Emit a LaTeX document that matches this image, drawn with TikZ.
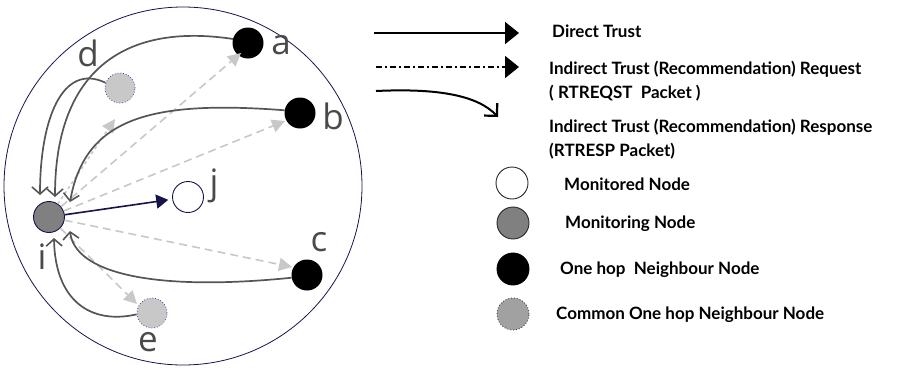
\documentclass[tikz,border=0pt]{standalone}
\usepackage{fontspec}
\setmainfont{Lato}
\newfontfamily\lblfont{Open Sans}
\usetikzlibrary{arrows.meta}
\definecolor{navy}{HTML}{14144A}
\definecolor{edgegray}{HTML}{555555}
\definecolor{reqgray}{HTML}{C8C8C8}
\definecolor{lblgray}{HTML}{4A4A4A}
\definecolor{ringblue}{HTML}{3A4AA8}
\tikzset{
  x=1pt, y=-1pt,
  nd/.style={circle, inner sep=0pt, minimum size=31pt},
  monitoring/.style={nd, fill=black!50, draw=navy, line width=0.9pt},
  monitored/.style={nd, fill=white, draw=navy, line width=0.9pt},
  onehop/.style={nd, fill=black},
  common/.style={nd, fill=reqgray, draw=ringblue, dotted, line width=0.8pt},
  lbl/.style={font=\lblfont\fontsize{35}{35}\selectfont, text=lblgray, inner sep=0pt},
  resp/.style={draw=edgegray, line width=1.7pt, -{Straight Barb[length=7pt,width=16pt,line width=1.6pt]}},
  req/.style={draw=reqgray, line width=1.6pt, dash pattern=on 8pt off 5pt, -{Triangle[length=13pt,width=13pt]}},
  reqdot/.style={draw=reqgray, line width=1.6pt, dash pattern=on 3pt off 3pt, -{Triangle[length=13pt,width=13pt]}},
  legtxt/.style={font=\bfseries\fontsize{17}{20}\selectfont, anchor=west, inner sep=0pt, align=left},
  legnd/.style={circle, inner sep=0pt, minimum size=32pt, draw=black!85, line width=0.9pt}
}
\begin{document}
\begin{tikzpicture}
\useasboundingbox (0,0) rectangle (909,370);

% network boundary
\draw[navy, line width=0.8pt] (183,186) circle[radius=179];

% nodes of the network
\node[monitoring] (i) at (49,217) {};
\node[monitored] (j) at (188,197) {};
\node[onehop] (a) at (248,43) {};
\node[onehop] (b) at (300,113) {};
\node[onehop] (c) at (307,275) {};
\node[common, minimum size=30pt] (d) at (120,88) {};
\node[common, minimum size=30pt] (e) at (152,313) {};

% node names
\node[lbl] (la) at (281,45) {a};
\node[lbl] (lb) at (333,116) {b};
\node[lbl] (lc) at (319,242) {c};
\node[lbl] (ld) at (88,53) {d};
\node[lbl] (lj) at (214,186) {j};
\node[lbl] (le) at (148,342) {e};
\node[lbl] (li) at (42,257) {i};

% coordinates where the requests and responses meet i
\coordinate (ia) at (55,197);
\coordinate (id) at (40,195);
\coordinate (ib) at (70,202);
\coordinate (ic) at (70,231);
\coordinate (ie) at (54,238);

% recommendation requests
\draw[req] (i) -- (241,53);
\draw[req] (i) -- (285,121);
\draw[req] (i) -- (292,267);
\draw[req] (i) -- (137,304);
\draw[reqdot] (i) -- (115,119);

% recommendation responses
\draw[resp] (a.165) .. controls (120,22) and (55,75) .. (ia);
\draw[resp] (d.160) .. controls (62,62) and (40,120) .. (id);
\draw[resp] (b.170) .. controls (150,100) and (85,118) .. (ib);
\draw[resp] (c.190) .. controls (150,292) and (75,272) .. (ic);
\draw[resp] (e.185) .. controls (90,325) and (55,300) .. (ie);

% direct trust
\draw[navy, line width=1.6pt, -{Triangle[length=12pt,width=14pt]}, shorten >=4pt] (i) -- (j);

% legend: connector kinds
\coordinate (s1) at (374,33);  \coordinate (t1) at (519,33);
\coordinate (s2) at (376,67);  \coordinate (t2) at (519,67);
\coordinate (s3) at (376,91);  \coordinate (t3) at (498,117);
\draw[black, line width=2pt, -{Triangle[length=14pt,width=22pt]}] (s1) -- (t1);
\draw[black, line width=2pt, dash pattern=on 6pt off 3pt on 2pt off 3pt, -{Triangle[length=14pt,width=22pt]}] (s2) -- (t2);
\draw[black, line width=2pt, -{Straight Barb[length=9pt,width=18pt,line width=2.2pt]}] (s3) .. controls (440,88) and (478,96) .. (t3);

\node[legtxt] (l1) at (552,31) {Direct Trust};
\node[legtxt] (l2) at (549,69) {Indirect Trust (Recommendation) Request};
\node[legtxt] (l3) at (549,93) {( RTREQST\ \ Packet )};
\node[legtxt] (l4) at (549,127) {Indirect Trust (Recommendation) Response};
\node[legtxt] (l5) at (549,151) {(RTRESP Packet)};

% legend: node kinds
\node[legnd, fill=white] (k1) at (512,183) {};
\node[legnd, fill=black!50] (k2) at (513,223) {};
\node[legnd, fill=black, draw=black] (k3) at (513,269) {};
\node[legnd, fill=black!37, dotted, draw=black!75] (k4) at (513,314) {};

\node[legtxt] (m1) at (564,184) {Monitored Node};
\node[legtxt] (m2) at (565,224) {Monitoring Node};
\node[legtxt] (m3) at (560,270) {One hop\ \ Neighbour Node};
\node[legtxt] (m4) at (556,315) {Common One hop Neighbour Node};
\end{tikzpicture}
\end{document}
